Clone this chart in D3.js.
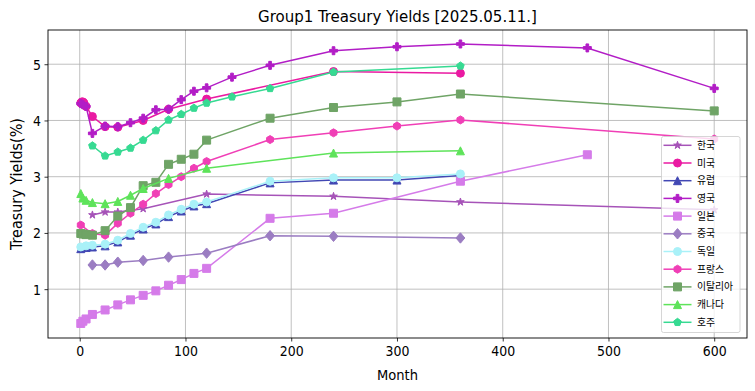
<!DOCTYPE html>
<html><head><meta charset="utf-8">
<script src="https://cdn.jsdelivr.net/npm/d3@7"></script>
<style>
body{margin:0;background:#fff;}
text{font-family:"DejaVu Sans Condensed","DejaVu Sans",sans-serif;font-stretch:condensed;}
text.kr{font-family:"Noto Sans CJK KR",sans-serif;font-stretch:normal;}
</style></head>
<body><svg id="c" width="755" height="391"></svg>
<script>
// ---- data ----
const seriesNames = ["한국","미국","유럽","영국","일본","중국","독일","프랑스","이탈리아","캐나다","호주"];
const krMonths = [12,24,36,60,120,240,360,600];
const krValues = [2.32,2.37,2.37,2.43,2.69,2.65,2.55,2.41];
const usMonths = [1,2,3,4,6,12,24,36,60,84,120,240,360];
const usValues = [4.31,4.33,4.33,4.31,4.25,4.07,3.89,3.88,4.00,4.20,4.38,4.87,4.84];
const euMonths = [1,6,12,24,36,48,60,72,84,96,108,120,180,240,300,360];
const euValues = [1.72,1.74,1.75,1.77,1.84,1.96,2.07,2.16,2.29,2.39,2.48,2.52,2.89,2.94,2.94,3.02];
const ukMonths = [1,3,6,12,24,36,48,60,72,84,96,108,120,144,180,240,300,360,480,600];
const ukValues = [4.30,4.28,4.25,3.77,3.90,3.89,3.96,4.04,4.19,4.20,4.37,4.52,4.58,4.77,4.98,5.24,5.31,5.36,5.29,4.57];
const jpMonths = [1,3,6,12,24,36,48,60,72,84,96,108,120,180,240,360,480];
const jpValues = [0.39,0.43,0.47,0.55,0.63,0.72,0.81,0.89,0.97,1.07,1.17,1.28,1.37,2.26,2.35,2.92,3.39];
const cnMonths = [12,24,36,60,84,120,180,240,360];
const cnValues = [1.43,1.43,1.48,1.51,1.57,1.64,1.95,1.94,1.91];
const deMonths = [1,6,12,24,36,48,60,72,84,96,108,120,180,240,300,360];
const deValues = [1.75,1.77,1.78,1.80,1.87,1.99,2.10,2.19,2.32,2.42,2.51,2.55,2.92,2.98,2.98,3.05];
const frMonths = [1,12,24,36,48,60,72,84,96,108,120,180,240,300,360,600];
const frValues = [2.14,1.99,1.96,2.17,2.35,2.51,2.70,2.86,3.00,3.15,3.27,3.66,3.78,3.90,4.01,3.67];
const itMonths = [1,3,6,12,24,36,48,60,72,84,96,108,120,180,240,300,360,600];
const itValues = [1.99,1.98,1.97,1.96,2.04,2.30,2.45,2.84,2.90,3.22,3.31,3.40,3.65,4.04,4.23,4.33,4.47,4.17];
const caMonths = [1,3,6,12,24,36,48,60,84,120,240,360];
const caValues = [2.70,2.62,2.58,2.54,2.52,2.56,2.67,2.79,2.97,3.15,3.42,3.46];
const auMonths = [12,24,36,48,60,72,84,96,108,120,144,180,240,360];
const auValues = [3.55,3.37,3.44,3.51,3.65,3.82,4.01,4.11,4.22,4.31,4.42,4.57,4.86,4.97];
const xTicks = [0,100,200,300,400,500,600];
const yTicks = [1,2,3,4,5];
const titleText = "Group1 Treasury Yields [2025.05.11.]";
const xLabel = "Month";
const yLabel = "Treasury Yields(%)";

// ---- styling ----
const colors = ["#a653b8","#ea1aa2","#4248b4","#b21dc6","#d57be9","#9b7dc2","#a9f1f8","#f03fb6","#6fa466","#5ee35a","#36da92"];
const shapes = ["star","circle","triangle","plus","square","diamond","circle","hexagon","square","triangle","pentagon"];
const monthsAll = [krMonths,usMonths,euMonths,ukMonths,jpMonths,cnMonths,deMonths,frMonths,itMonths,caMonths,auMonths];
const valuesAll = [krValues,usValues,euValues,ukValues,jpValues,cnValues,deValues,frValues,itValues,caValues,auValues];
const series = seriesNames.map((n,i)=>({name:n,color:colors[i],shape:shapes[i],
  pts:monthsAll[i].map((m,j)=>({m:m,v:valuesAll[i][j]}))}));

const svg = d3.select("#c");
svg.append("rect").attr("width",755).attr("height",391).attr("fill","#fff");
const L=48,R=747,T=30,B=338;
const x = d3.scaleLinear().domain([-30,631]).range([L,R]);
const allV = valuesAll.flat();
const vmin=d3.min(allV), vmax=d3.max(allV), pad=(vmax-vmin)*0.05;
const y = d3.scaleLinear().domain([vmin-pad-0.01,vmax+pad]).range([B,T]);

// grid
const g = svg.append("g");
g.selectAll(".gx").data(xTicks).join("line").attr("x1",d=>x(d)).attr("x2",d=>x(d))
  .attr("y1",T).attr("y2",B).attr("stroke","#b0b0b0").attr("stroke-width",0.8);
g.selectAll(".gy").data(yTicks).join("line").attr("y1",d=>y(d)).attr("y2",d=>y(d))
  .attr("x1",L).attr("x2",R).attr("stroke","#b0b0b0").attr("stroke-width",0.8);

function markerPath(shape, ms){
  const r = ms/2;
  const poly = (n, rad, rot)=>{const p=[];for(let k=0;k<n;k++){const a=rot+2*Math.PI*k/n;p.push([rad*Math.sin(a),-rad*Math.cos(a)]);}return "M"+p.map(q=>q.join(",")).join("L")+"Z";};
  switch(shape){
    case "circle": return d3.symbol(d3.symbolCircle, Math.PI*r*r)();
    case "square": return `M${-r},${-r}H${r}V${r}H${-r}Z`;
    case "triangle": return `M0,${-r}L${r},${r}L${-r},${r}Z`;
    case "diamond": { const d=r*1.3; return `M0,${-d}L${d*0.85},0L0,${d}L${-d*0.85},0Z`; }
    case "pentagon": return poly(5, r, 0);
    case "hexagon": return poly(6, r, 0);
    case "star": { const p=[]; for(let k=0;k<10;k++){const a=Math.PI*k/5; const rad=k%2?r*0.38:r; p.push([rad*Math.sin(a),-rad*Math.cos(a)]);} return "M"+p.map(q=>q.join(",")).join("L")+"Z"; }
    case "plus": { const a=r/3; return `M${-a},${-r}H${a}V${-a}H${r}V${a}H${a}V${r}H${-a}V${a}H${-r}V${-a}H${-a}Z`; }
  }
}

const line = d3.line().x(d=>x(d.m)).y(d=>y(d.v));
const plot = svg.append("g");
series.forEach(s=>{
  const gg = plot.append("g");
  gg.append("path").attr("d",line(s.pts)).attr("fill","none").attr("stroke",s.color).attr("stroke-width",1.5);
  gg.selectAll("path.m").data(s.pts).join("path").attr("class","m")
    .attr("transform",d=>`translate(${x(d.m)},${y(d.v)})`)
    .attr("d",markerPath(s.shape,8)).attr("fill",s.color).attr("stroke",s.color).attr("stroke-width",1);
});

// frame
svg.append("rect").attr("x",L).attr("y",T).attr("width",R-L).attr("height",B-T)
  .attr("fill","none").attr("stroke","#000").attr("stroke-width",0.9);

// axes
const FS = 13.9;
const xa = svg.append("g").attr("transform",`translate(0,${B})`)
  .call(d3.axisBottom(x).tickValues(xTicks).tickSize(3.5).tickPadding(3.5).tickFormat(d3.format("d")));
const ya = svg.append("g").attr("transform",`translate(${L},0)`)
  .call(d3.axisLeft(y).tickValues(yTicks).tickSize(3.5).tickPadding(3.5).tickFormat(d3.format("d")));
[xa,ya].forEach(a=>{a.select(".domain").remove();a.selectAll("text").attr("font-size",FS).attr("font-family",null).attr("fill","#000");a.selectAll("line").attr("stroke","#000").attr("stroke-width",0.8);});
xa.selectAll("text").attr("y",0).attr("dy",null).attr("transform","translate(0,17.5)");
ya.selectAll("text").attr("dy","0.36em");

svg.append("text").attr("x",(L+R)/2).attr("y",22).attr("text-anchor","middle").attr("font-size",16.7).text(titleText);
svg.append("text").attr("x",(L+R)/2).attr("y",380).attr("text-anchor","middle").attr("font-size",14.5).text(xLabel);
svg.append("text").attr("transform",`translate(22,${(T+B)/2}) rotate(-90)`).attr("text-anchor","middle").attr("font-size",16).text(yLabel);

// legend
const lg = svg.append("g");
lg.append("rect").attr("x",661.5).attr("y",136.5).attr("width",78.5).attr("height",196).attr("rx",2)
  .attr("fill","#fff").attr("fill-opacity",0.8).attr("stroke","#cccccc").attr("stroke-width",0.8);
series.forEach((s,i)=>{
  const yy = 145.3 + i*17.7;
  lg.append("line").attr("x1",663.5).attr("x2",691.5).attr("y1",yy).attr("y2",yy).attr("stroke",s.color).attr("stroke-width",1.5);
  lg.append("path").attr("transform",`translate(677.5,${yy})`).attr("d",markerPath(s.shape,8)).attr("fill",s.color).attr("stroke",s.color);
  lg.append("text").attr("class","kr").attr("x",697).attr("y",yy).attr("dy","0.36em").attr("font-size",9.8).text(s.name);
});
</script></body></html>
